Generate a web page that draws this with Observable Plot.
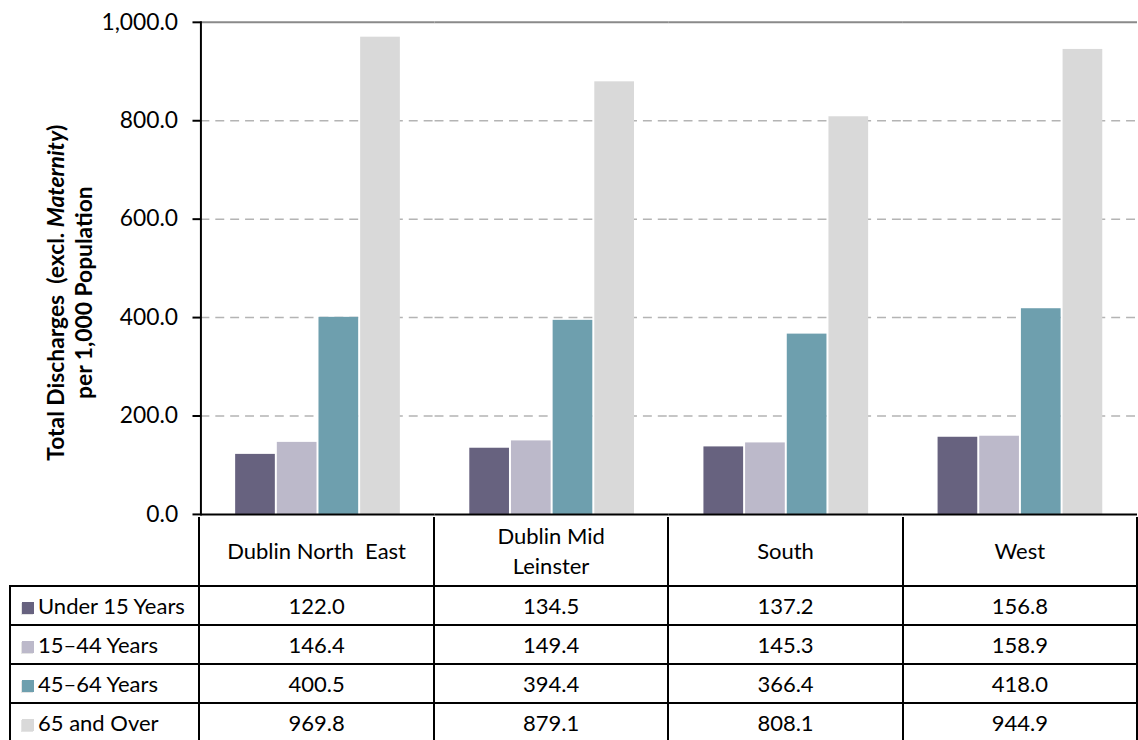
<!DOCTYPE html>
<html>
<head>
<meta charset="utf-8">
<script src="https://cdn.jsdelivr.net/npm/d3@7"></script>
<script src="https://cdn.jsdelivr.net/npm/@observablehq/plot@0.6"></script>
<style>
  html, body { margin: 0; padding: 0; background: #fff; overflow: hidden; }
  #wrap { position: relative; width: 1138px; height: 740px; overflow: hidden; font-family: Lato, "Open Sans", sans-serif; color: #000; }
  #chart { position: absolute; left: 0; top: 0; }
  #chart svg { overflow: visible; }
  table.dt { position: absolute; left: 9px; top: 517px; border-collapse: collapse; table-layout: fixed; font-family: Lato, sans-serif; font-size: 22px; }
  table.dt td { border: 2px solid #000; text-align: center; padding: 0; white-space: pre-wrap; line-height: 30px; }
  table.dt td.blank { border: none; }
  table.dt tr.head td { height: 68px; border-top: none; }
  table.dt tr.row td { height: 37px; }
  table.dt td.lab { text-align: left; padding-left: 11px; }
  .sw { display: inline-block; width: 12px; height: 12px; margin-right: 4px; vertical-align: 0px; box-shadow: -1px 1px 0 #e4e4e4; }
</style>
</head>
<body>
<div id="wrap">
  <div id="chart"></div>
</div>
<script>
// ---- data ----
const regions = ["Dublin North East", "Dublin Mid Leinster", "South", "West"];
const regionHeaders = ["Dublin North  East", "Dublin Mid\nLeinster", "South", "West"];
const ageGroups = ["Under 15 Years", "15–44 Years", "45–64 Years", "65 and Over"];
const under15 = [122.0, 134.5, 137.2, 156.8];
const age15to44 = [146.4, 149.4, 145.3, 158.9];
const age45to64 = [400.5, 394.4, 366.4, 418.0];
const age65plus = [969.8, 879.1, 808.1, 944.9];
const yTicks = [0, 200, 400, 600, 800, 1000];
const gridTicks = [200, 400, 600, 800];
const colors = ["#67627f", "#bcb9ca", "#6e9fae", "#d9d9d9"];

const series = [under15, age15to44, age45to64, age65plus];
const data = ageGroups.flatMap((g, i) => regions.map((r, j) => ({region: r, age: g, value: series[i][j]})));

const fmt = d3.format(",.1f");

const plot = Plot.plot({
  width: 1147,
  height: 520,
  marginLeft: 200,
  marginRight: 0,
  marginTop: 22,
  marginBottom: 2,
  style: {fontFamily: "Lato, sans-serif", fontSize: "23px", color: "#000", background: "transparent", overflow: "visible"},
  fx: {domain: regions, padding: 0, axis: null, label: null},
  x: {domain: ageGroups, paddingInner: 0, paddingOuter: 0.8, axis: null},
  y: {domain: [0, 1000], range: [518, 22], axis: null},
  color: {domain: ageGroups, range: colors},
  marks: [
    Plot.ruleY(gridTicks, {stroke: "#b4b4b4", strokeWidth: 1.5, strokeDasharray: "9,6"}),
    Plot.ruleY([1000], {stroke: "#8a8a8a", strokeWidth: 2}),
    Plot.barY(data, {fx: "region", x: "age", y: "value", fill: "age", insetLeft: 1, insetRight: 1}),
    Plot.ruleY([0], {stroke: "#000", strokeWidth: 2}),
    Plot.axisY(yTicks, {anchor: "left", tickSize: 8, tickPadding: 15, tickFormat: fmt, fontSize: 23, stroke: "#000", strokeWidth: 2, label: null}),
    Plot.frame({anchor: "left", facetAnchor: "left", stroke: "#000", strokeWidth: 2})
  ]
});
document.getElementById("chart").appendChild(plot);

// y-axis title (two lines, "Maternity" italic)
const svg = d3.select(plot);
const title = svg.append("text")
  .attr("transform", "translate(0,295) rotate(-90)")
  .attr("text-anchor", "middle")
  .attr("font-family", "Lato, sans-serif")
  .attr("font-weight", "bold")
  .attr("font-size", 23)
  .attr("fill", "#000")
  .style("white-space", "pre");
const l1 = title.append("tspan").attr("x", 0).attr("y", 65);
l1.append("tspan").text("Total Discharges  (excl. ");
l1.append("tspan").attr("font-style", "italic").text("Maternity");
l1.append("tspan").text(")");
title.append("tspan").attr("x", 0).attr("y", 93).text("per 1,000 Population");

// data table below the chart
const table = d3.select("#wrap").append("table").attr("class", "dt");
const cg = table.append("colgroup");
cg.append("col").style("width", "191px");
regions.forEach(() => cg.append("col").style("width", "236.75px"));
const head = table.append("tr").attr("class", "head");
head.append("td").attr("class", "blank");
regionHeaders.forEach(h => head.append("td").text(h));
ageGroups.forEach((g, i) => {
  const tr = table.append("tr").attr("class", "row");
  const lab = tr.append("td").attr("class", "lab");
  lab.append("span").attr("class", "sw").style("background", colors[i]);
  lab.append("span").text(g);
  series[i].forEach(v => tr.append("td").text(v.toFixed(1)));
});
</script>
</body>
</html>
